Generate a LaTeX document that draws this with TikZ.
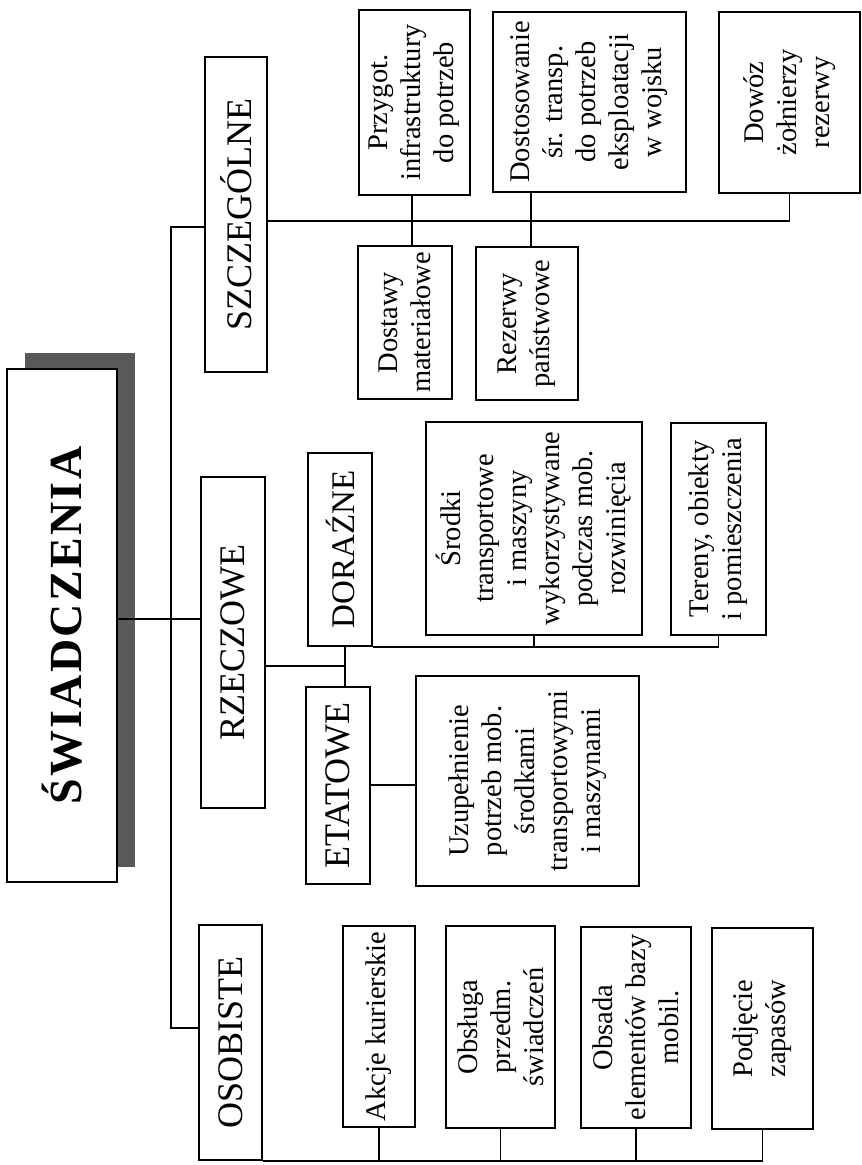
\documentclass[tikz,border=0pt]{standalone}
\usepackage{fontspec}
\setmainfont{Liberation Serif}
\begin{document}
\begin{tikzpicture}[x=1pt,y=-1pt, line width=1.9pt,
  box/.style={draw, fill=white, rotate=90, inner sep=0pt, align=center,
              font=\fontsize{28.5}{33}\selectfont},
  cat/.style={box, font=\fontsize{36}{40}\selectfont},
  ttl/.style={box, font=\fontsize{46}{50}\selectfont\bfseries\addfontfeature{LetterSpace=5}},
  shadow/.style={fill=black!65, draw=none}]
\useasboundingbox (0,0) rectangle (862,1165);
\fill[white] (0,0) rectangle (862,1165);

% title
\fill[shadow] (25,353) rectangle (135,867);
\node[ttl, minimum width=513pt, minimum height=110pt] (title) at (62,625.5) {ŚWIADCZENIA};

% categories
\node[cat, minimum width=315pt, minimum height=62pt] (szcz) at (236,214.5) {SZCZEGÓLNE};
\node[cat, minimum width=331pt, minimum height=64pt] (rzecz) at (233,642.5) {RZECZOWE};
\node[cat, minimum width=235pt, minimum height=63pt] (osob) at (230.5,1042.5) {OSOBISTE};
\node[cat, minimum width=193pt, minimum height=64pt, font=\fontsize{33}{38}\selectfont] (doraz) at (340,549.5) {DORAŹNE};
\node[cat, minimum width=197pt, minimum height=64pt] (etat) at (338,785.5) {ETATOWE};

% SZCZEGÓLNE children
\node[box, minimum width=185pt, minimum height=111pt] (przygot) at (414.5,102.5) {Przygot.\\infrastruktury\\do potrzeb};
\node[box, minimum width=180pt, minimum height=193pt] (dostos) at (589.5,102) {Dostosowanie\\śr. transp.\\do potrzeb\\eksploatacji\\w wojsku};
\node[box, minimum width=181pt, minimum height=141pt] (dowoz) at (789.5,102.5) {Dowóz\\żołnierzy\\rezerwy};
\node[box, minimum width=153pt, minimum height=94pt] (dostawy) at (405,322.5) {Dostawy\\materiałowe};
\node[box, minimum width=153pt, minimum height=102pt] (rezerwy) at (527,323.5) {Rezerwy\\państwowe};

% DORAŹNE children
\node[box, minimum width=213pt, minimum height=216pt] (srodki) at (534,528.5) {Środki\\transportowe\\i maszyny\\wykorzystywane\\podczas mob.\\rozwinięcia};
\node[box, minimum width=212pt, minimum height=95pt] (tereny) at (718.5,529) {Tereny, obiekty\\i pomieszczenia};

% ETATOWE child
\node[box, minimum width=210pt, minimum height=223pt] (uzup) at (527.5,781) {Uzupełnienie\\potrzeb mob.\\środkami\\transportowymi\\i maszynami};

% OSOBISTE children
\node[box, minimum width=201pt, minimum height=72pt] (akcje) at (379,1026.5) {Akcje kurierskie};
\node[box, minimum width=202pt, minimum height=109pt] (obsluga) at (500.5,1027) {Obsługa\\przedm.\\świadczeń};
\node[box, minimum width=201pt, minimum height=110pt] (obsada) at (636,1027.5) {Obsada\\elementów bazy\\mobil.};
\node[box, minimum width=201pt, minimum height=101pt] (podj) at (762.5,1028.5) {Podjęcie\\zapasów};

% connectors
\draw (title.south |- 0,619) -- (rzecz.north |- 0,619);
\draw (szcz.north |- 0,227) -- (171,227) -- (171,1028) -- (osob.north |- 0,1028);
\draw (szcz.south |- 0,221) -| (dowoz.west);
\draw (412,0 |- przygot.west) -- (412,0 |- dostawy.east);
\draw (531,0 |- dostos.west) -- (531,0 |- rezerwy.east);
\draw (rzecz.south |- 0,666) -- (345,666);
\draw (345,0 |- doraz.west) -- (345,0 |- etat.east);
\draw (doraz.south west) -| (tereny.west);
\draw (srodki.west) -- (srodki.west |- doraz.south west);
\draw (etat.south |- 0,785) -- (uzup.north |- 0,785);
\draw (osob.south west) -| (podj.west);
\draw (akcje.west) -- (akcje.west |- osob.south west);
\draw (obsluga.west) -- (obsluga.west |- osob.south west);
\draw (obsada.west) -- (obsada.west |- osob.south west);
\end{tikzpicture}
\end{document}
